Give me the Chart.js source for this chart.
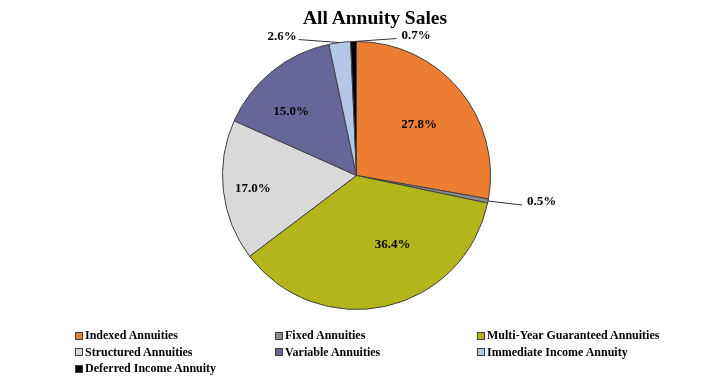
<!DOCTYPE html>
<html>
<head>
<meta charset="utf-8">
<script src="https://cdn.jsdelivr.net/npm/chart.js@4"></script>
<style>
  html, body { margin: 0; padding: 0; background: #fff; }
  #wrap { position: relative; width: 720px; height: 383px; overflow: hidden; }
  #title { position: absolute; left: 0; top: 8px; width: 750px; text-align: center;
    font: bold 19.5px "Liberation Serif", "Times New Roman", serif; line-height: 20px; color: #000; }
  #legend { position: absolute; left: 75px; top: 327px; display: grid;
    grid-template-columns: 200px 202px auto; grid-auto-rows: 16.5px;
    font: bold 12px "Liberation Serif", "Times New Roman", serif; color: #000; }
  #legend .item { white-space: nowrap; line-height: 16.5px; }
  #legend .box { display: inline-block; width: 8px; height: 8px; box-sizing: border-box;
    border: 1px solid #404040; margin-right: 2px; vertical-align: -0.5px; }
  canvas { position: absolute; left: 0; top: 0; }
</style>
</head>
<body>
<div id="wrap">
  <canvas id="c" width="720" height="383"></canvas>
  <div id="title"></div>
  <div id="legend"></div>
</div>
<script>
const chartTitle = "All Annuity Sales";
const categories = [
  "Indexed Annuities",
  "Fixed Annuities",
  "Multi-Year Guaranteed Annuities",
  "Structured Annuities",
  "Variable Annuities",
  "Immediate Income Annuity",
  "Deferred Income Annuity"
];
const shares = [27.8, 0.5, 36.4, 17.0, 15.0, 2.6, 0.7];
const sliceColors = ["#ED7D31", "#8C8C8C", "#B3B51A", "#D9D9D9", "#666699", "#B4C7E7", "#000000"];

// label placement styles per slice
const labelStyle = [
  { mode: "in", f: 0.60, da: 1 },
  { mode: "out", dx: 34, dy: 4, align: "left" },
  { mode: "in", f: 0.58, da: -15 },
  { mode: "in", f: 0.78, da: -1 },
  { mode: "in", f: 0.68, da: -7 },
  { mode: "out", dx: -41, dy: -3, align: "right" },
  { mode: "out", dx: 43, dy: -3, align: "left" }
];

document.getElementById("title").textContent = chartTitle;
const legendEl = document.getElementById("legend");
categories.forEach((name, i) => {
  const it = document.createElement("div");
  it.className = "item";
  const b = document.createElement("span");
  b.className = "box";
  b.style.background = sliceColors[i];
  it.appendChild(b);
  it.appendChild(document.createTextNode(name));
  legendEl.appendChild(it);
});

const labelPlugin = {
  id: "sliceLabels",
  afterDatasetsDraw(chart) {
    const ctx = chart.ctx;
    const meta = chart.getDatasetMeta(0);
    ctx.save();
    ctx.font = "bold 13px 'Liberation Serif', 'Times New Roman', serif";
    ctx.fillStyle = "#000";
    ctx.textBaseline = "middle";
    meta.data.forEach((arc, i) => {
      const st = labelStyle[i];
      const txt = shares[i].toFixed(1) + "%";
      const p = arc.getProps(["x", "y", "startAngle", "endAngle", "outerRadius"], true);
      const mid = (p.startAngle + p.endAngle) / 2;
      if (st.mode === "in") {
        const a = mid + st.da * Math.PI / 180;
        const r = p.outerRadius * st.f;
        ctx.textAlign = "center";
        ctx.fillText(txt, p.x + Math.cos(a) * r, p.y + Math.sin(a) * r);
      } else {
        const ex = p.x + Math.cos(mid) * p.outerRadius;
        const ey = p.y + Math.sin(mid) * p.outerRadius;
        const lx = ex + st.dx, ly = ey + st.dy;
        ctx.strokeStyle = "#333";
        ctx.lineWidth = 1;
        ctx.beginPath();
        ctx.moveTo(ex, ey);
        ctx.lineTo(lx, ly);
        ctx.stroke();
        ctx.textAlign = st.align;
        const tx = st.align === "left" ? lx + 5 : lx - 2;
        ctx.fillText(txt, tx, ly - 3);
      }
    });
    ctx.restore();
  }
};

new Chart(document.getElementById("c"), {
  type: "pie",
  data: {
    labels: categories,
    datasets: [{
      data: shares,
      backgroundColor: sliceColors,
      borderColor: "#404040",
      borderWidth: 1
    }]
  },
  options: {
    responsive: false,
    animation: false,
    devicePixelRatio: 1,
    layout: { padding: { top: 41, bottom: 73, left: 0, right: 7 } },
    plugins: {
      legend: { display: false },
      title: { display: false },
      tooltip: { enabled: false }
    }
  },
  plugins: [labelPlugin]
});
</script>
</body>
</html>
